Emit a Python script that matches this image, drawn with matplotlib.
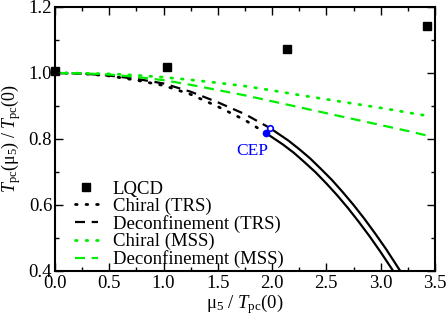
import numpy as np
import matplotlib
matplotlib.use('Agg')
import matplotlib.pyplot as plt
from matplotlib.ticker import MultipleLocator, FormatStrFormatter

plt.rcParams['font.family'] = 'Liberation Serif'
plt.rcParams['mathtext.fontset'] = 'custom'
plt.rcParams['mathtext.rm'] = 'Liberation Serif'
plt.rcParams['mathtext.it'] = 'Liberation Serif:italic'

# LQCD points
lqcd_mu = [0.0, 1.03, 2.14, 3.43]
lqcd_t = [1.005, 1.019, 1.071, 1.142]

# TRS chiral (dotted) up to CEP
chi_trs_mu = [0.0, 0.25, 0.5, 0.75, 1.0, 1.25, 1.5, 1.75, 1.946]
chi_trs_t = [1.0, 0.998, 0.991, 0.978, 0.962, 0.935, 0.898, 0.857, 0.817]
# TRS deconfinement (dashed) up to CEP
dec_trs_mu = [0.0, 0.25, 0.5, 0.75, 1.0, 1.25, 1.5, 1.75, 1.98]
dec_trs_t = [1.0, 0.998, 0.992, 0.982, 0.968, 0.943, 0.911, 0.875, 0.833]

# first-order lines beyond CEP
chi_1st_mu = [1.946, 2.1, 2.2, 2.3, 2.4, 2.5, 2.6, 2.7, 2.8, 2.9, 3.0, 3.115]
chi_1st_t = [0.817, 0.783, 0.758, 0.729, 0.699, 0.665, 0.629, 0.590, 0.548, 0.504, 0.457, 0.400]
dec_1st_mu = [1.98, 2.15, 2.25, 2.35, 2.45, 2.55, 2.65, 2.75, 2.85, 2.95, 3.05, 3.18]
dec_1st_t = [0.833, 0.795, 0.769, 0.741, 0.709, 0.676, 0.639, 0.600, 0.558, 0.513, 0.466, 0.400]

# MSS curves
chi_mss_mu = [0.0, 0.25, 0.5, 0.75, 1.0, 1.25, 1.5, 1.75, 2.0, 2.25, 2.5, 2.75, 3.0, 3.25, 3.43]
chi_mss_t = [1.0, 0.999, 0.997, 0.993, 0.987, 0.979, 0.970, 0.960, 0.947, 0.933, 0.920, 0.907, 0.894, 0.880, 0.870]
dec_mss_mu = [0.0, 0.25, 0.5, 0.75, 1.0, 1.25, 1.5, 1.75, 2.0, 2.25, 2.5, 2.75, 3.0, 3.25, 3.43]
dec_mss_t = [1.0, 0.999, 0.995, 0.988, 0.978, 0.964, 0.948, 0.932, 0.914, 0.896, 0.878, 0.860, 0.842, 0.824, 0.810]

# critical end points
cep_chi = (1.946, 0.817)
cep_dec = (1.98, 0.833)

fig = plt.figure(figsize=(4.47, 3.15), dpi=100)
ax = fig.add_axes([0.123, 0.14, 0.850, 0.838])

green = '#00ee00'
ax.plot(lqcd_mu, lqcd_t, 's', color='black', ms=6, label='LQCD', clip_on=False, zorder=5)
ax.plot(chi_trs_mu, chi_trs_t, color='black', lw=2, ls=(0, (0.6, 3.2)), dash_capstyle='round', label='Chiral (TRS)')
ax.plot(dec_trs_mu, dec_trs_t, color='black', lw=1.6, ls=(0, (4.5, 3)), label='Deconfinement (TRS)')
ax.plot(chi_mss_mu, chi_mss_t, color=green, lw=2, ls=(0, (0.6, 3.2)), dash_capstyle='round', label='Chiral (MSS)')
ax.plot(dec_mss_mu, dec_mss_t, color=green, lw=1.6, ls=(0, (4.5, 3)), label='Deconfinement (MSS)')
ax.plot(chi_1st_mu, chi_1st_t, color='black', lw=1.6)
ax.plot(dec_1st_mu, dec_1st_t, color='black', lw=1.6)
ax.plot(*cep_chi, 'o', color='blue', ms=4.5, zorder=6)
ax.plot(*cep_dec, 'o', mfc='white', mec='blue', mew=1.2, ms=4, zorder=6)
ax.text(1.82, 0.764, 'CEP', color='blue', fontsize=12.5, ha='center', va='center')

ax.set_xlim(0, 3.5)
ax.set_ylim(0.4, 1.2)
ax.xaxis.set_major_locator(MultipleLocator(0.5))
ax.xaxis.set_minor_locator(MultipleLocator(0.25))
ax.yaxis.set_major_locator(MultipleLocator(0.2))
ax.yaxis.set_minor_locator(MultipleLocator(0.1))
ax.xaxis.set_major_formatter(FormatStrFormatter('%.1f'))
ax.yaxis.set_major_formatter(FormatStrFormatter('%.1f'))
ax.tick_params(which='both', direction='in', top=True, right=True, labelsize=13.5)
ax.tick_params(axis='x', pad=3)
ax.tick_params(axis='y', pad=2)
ax.tick_params(which='major', length=6, width=1)
ax.tick_params(which='minor', length=3, width=1)
for s in ax.spines.values():
    s.set_linewidth(1.5)

ax.set_xlabel(r'$\mathrm{μ}_5\ /\ T_{\mathrm{pc}}(0)$', fontsize=13.5, labelpad=0)
ax.set_ylabel(r'$T_{\mathrm{pc}}(\mathrm{μ}_5)\ /\ T_{\mathrm{pc}}(0)$', fontsize=13, labelpad=4)

ax.legend(loc='lower left', bbox_to_anchor=(0.053, 0.01), frameon=False, fontsize=13.5,
          handlelength=1.2, handletextpad=0.8, labelspacing=0.0, borderaxespad=0.0, borderpad=0.0)

fig.savefig('out.png', dpi=100)
